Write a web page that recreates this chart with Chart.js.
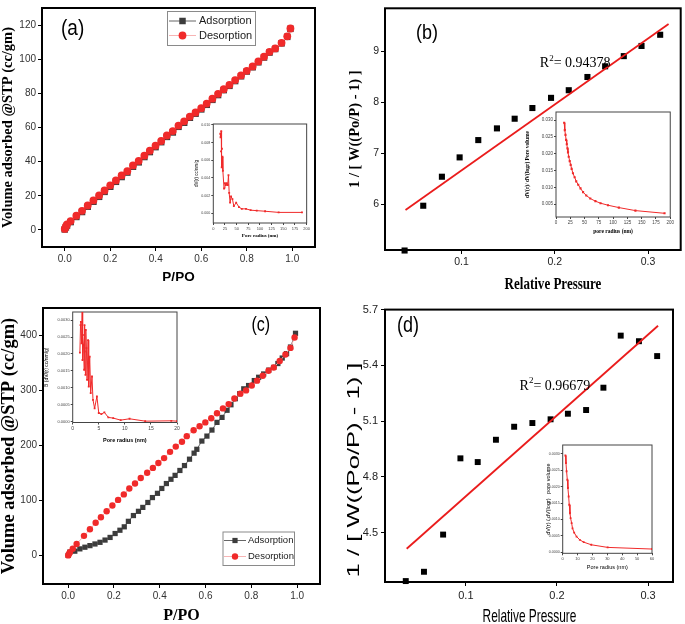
<!DOCTYPE html>
<html>
<head>
<meta charset="utf-8">
<script src="https://cdn.jsdelivr.net/npm/chart.js@4.4.1/dist/chart.umd.min.js"></script>
<style>
  html, body { margin: 0; padding: 0; background: #fff; }
  #page { position: relative; width: 685px; height: 624px; overflow: hidden; background: #fff; }
  canvas { position: absolute; }
</style>
</head>
<body>
<div id="page">
  <canvas id="chartA"></canvas>
  <canvas id="chartB"></canvas>
  <canvas id="chartC"></canvas>
  <canvas id="chartD"></canvas>
  <canvas id="insetA"></canvas>
  <canvas id="insetB"></canvas>
  <canvas id="insetC"></canvas>
  <canvas id="insetD"></canvas>
</div>
<script>
// ---- panel (a): isotherm ----
const aRelPressure = [0, 0.005, 0.01, 0.026, 0.051, 0.076, 0.101, 0.126, 0.151, 0.175, 0.2, 0.225, 0.25, 0.275, 0.3, 0.325, 0.35, 0.374, 0.399, 0.424, 0.449, 0.475, 0.5, 0.525, 0.55, 0.575, 0.6, 0.624, 0.649, 0.674, 0.699, 0.724, 0.749, 0.775, 0.8, 0.826, 0.851, 0.876, 0.9, 0.925, 0.953, 0.978, 0.992];
const aAdsorption = [0.3, 1.5, 2.6, 4.6, 7.6, 10.5, 13.6, 16.5, 19.4, 22.3, 25.3, 28.2, 31.0, 33.6, 37.0, 39.6, 42.7, 45.6, 48.5, 51.4, 54.5, 57.1, 60.4, 62.8, 65.7, 68.1, 70.6, 73.3, 76.2, 79.0, 81.9, 84.4, 87.2, 90.0, 92.8, 95.3, 98.2, 101.0, 103.9, 106.0, 109.3, 113.1, 117.8];
const aDesorption = [0.6, 2.0, 3.2, 5.2, 8.3, 11.2, 14.3, 17.3, 20.2, 23.1, 26.1, 29.0, 31.9, 34.4, 37.8, 40.4, 43.5, 46.4, 49.3, 52.1, 55.3, 57.9, 61.1, 63.6, 66.4, 68.8, 71.3, 74.0, 76.9, 79.7, 82.4, 85.0, 87.8, 90.5, 93.2, 95.8, 98.7, 101.5, 104.3, 106.3, 109.6, 113.4, 118.0];
const aTicksX = [0, 0.2, 0.4, 0.6, 0.8, 1.0];
const aTicksY = [0, 20, 40, 60, 80, 100, 120];

// inset (a): pore size distribution
const aPoreRadius = [15, 15.5, 17, 16.5, 18.5, 18, 19.5, 20.5, 23, 25, 27, 29, 31, 32.5, 34, 36, 38, 41, 44, 49, 55, 61, 70, 80, 93, 111, 140, 190];
const aPoreVolume = [0.0090, 0.0086, 0.0093, 0.0070, 0.0073, 0.0052, 0.0064, 0.0048, 0.0028, 0.0034, 0.0032, 0.0034, 0.0032, 0.0043, 0.0023, 0.0012, 0.0019, 0.0016, 0.0008, 0.0012, 0.0007, 0.0005, 0.0005, 0.00035, 0.0003, 0.00023, 0.0001, 0.0001];
const aInsetTicksX = [0, 25, 50, 75, 100, 125, 150, 175, 200];
const aInsetTicksY = [0, 0.002, 0.004, 0.006, 0.008, 0.010];

// ---- panel (b): BET plot ----
const bRelPressure = [0.039, 0.059, 0.079, 0.098, 0.118, 0.138, 0.157, 0.176, 0.196, 0.215, 0.235, 0.254, 0.274, 0.293, 0.313];
const bBet = [5.09, 5.97, 6.54, 6.92, 7.26, 7.49, 7.68, 7.89, 8.09, 8.24, 8.50, 8.71, 8.91, 9.11, 9.33];
const bFitPressure = [0.040, 0.322];
const bFitBet = [5.885, 9.54];
const bTicksX = [0.1, 0.2, 0.3];
const bTicksY = [6, 7, 8, 9];

const bPoreRadius = [14.3, 15.4, 16.6, 17.7, 18.9, 20, 21, 22.3, 24, 25.7, 27.4, 29.7, 32.6, 35.4, 38.9, 42.9, 47.4, 53, 60, 69, 78, 91, 110, 139, 190];
const bPoreVolume = [0.0292, 0.0270, 0.0256, 0.0241, 0.0228, 0.0216, 0.0204, 0.0191, 0.0178, 0.0167, 0.0155, 0.0142, 0.0130, 0.0118, 0.0108, 0.0097, 0.0086, 0.0076, 0.0067, 0.0059, 0.0053, 0.0047, 0.0040, 0.0031, 0.0023];
const bInsetTicksX = [0, 25, 50, 75, 100, 125, 150, 175, 200];
const bInsetTicksY = [0.005, 0.010, 0.015, 0.020, 0.025, 0.030];

// ---- panel (c): isotherm with hysteresis ----
const cAdsPressure = [0, 0.007, 0.029, 0.051, 0.073, 0.095, 0.117, 0.139, 0.161, 0.183, 0.205, 0.226, 0.245, 0.263, 0.285, 0.307, 0.326, 0.348, 0.368, 0.39, 0.409, 0.429, 0.449, 0.467, 0.488, 0.508, 0.53, 0.55, 0.562, 0.584, 0.606, 0.628, 0.65, 0.672, 0.694, 0.711, 0.73, 0.749, 0.767, 0.788, 0.813, 0.832, 0.854, 0.876, 0.898, 0.916, 0.935, 0.954, 0.971, 0.993];
const cAdsorption = [0, 6, 7.7, 11.9, 14.9, 17.8, 20.8, 23.8, 27.9, 32.7, 39.8, 45.8, 52, 62, 72.5, 80.2, 87.3, 96.3, 105.2, 112.9, 121.8, 130.7, 138.5, 145.6, 154.5, 163.4, 175, 186, 193, 208, 217, 228, 242, 251, 264, 274, 285, 294, 303, 309, 318, 324, 330, 337, 342, 349, 359, 367, 379, 404];
const cDesPressure = [0, 0.004, 0.008, 0.02, 0.037, 0.069, 0.095, 0.12, 0.143, 0.168, 0.193, 0.218, 0.243, 0.267, 0.292, 0.317, 0.345, 0.37, 0.394, 0.419, 0.445, 0.47, 0.497, 0.518, 0.548, 0.574, 0.599, 0.625, 0.65, 0.676, 0.701, 0.726, 0.752, 0.777, 0.802, 0.825, 0.85, 0.875, 0.898, 0.924, 0.949, 0.971, 0.989];
const cDesorption = [0, 3, 6, 12, 20.8, 35.6, 47.5, 59.4, 69.5, 80.2, 90.9, 101, 111, 121.8, 130.7, 140.8, 150.3, 159.2, 168.1, 177, 188.4, 197.9, 206.8, 216.9, 227.6, 234.8, 241.9, 249.6, 258.5, 267.4, 275.2, 285.3, 294.2, 300.1, 309, 317.9, 326.8, 335.8, 341.7, 353.6, 365.5, 377.4, 396.4];
const cTicksX = [0, 0.2, 0.4, 0.6, 0.8, 1.0];
const cTicksY = [0, 100, 200, 300, 400];

const cPoreRadius = [1.38, 1.5, 1.57, 1.69, 1.82, 1.88, 1.94, 2.07, 2.19, 2.26, 2.32, 2.45, 2.51, 2.63, 2.76, 2.95, 3.07, 3.26, 3.45, 3.7, 3.89, 4.2, 4.64, 5.0, 5.5, 6.08, 6.83, 7.77, 9.2, 10.9, 13.9, 18.9, 20];
const cPoreVolume = [0.00204, 0.00285, 0.00295, 0.00231, 0.00330, 0.00182, 0.00256, 0.00226, 0.00153, 0.00285, 0.00207, 0.00138, 0.00271, 0.00217, 0.00123, 0.00241, 0.00103, 0.00192, 0.00084, 0.00133, 0.00064, 0.00039, 0.00074, 0.00025, 0.00022, 0.00027, 0.00012, 0.0001, 0.00004, 0.00008, 0.00001, 0.00002, 0.00001];
const cInsetTicksX = [0, 5, 10, 15, 20];
const cInsetTicksY = [0, 0.0005, 0.0010, 0.0015, 0.0020, 0.0025, 0.0030];

// ---- panel (d): BET plot ----
const dRelPressure = [0.034, 0.054, 0.075, 0.094, 0.113, 0.133, 0.153, 0.173, 0.193, 0.212, 0.232, 0.251, 0.270, 0.290, 0.310];
const dBet = [4.24, 4.29, 4.49, 4.90, 4.88, 5.00, 5.07, 5.09, 5.11, 5.14, 5.16, 5.28, 5.56, 5.53, 5.45];
const dFitPressure = [0.035, 0.311];
const dFitBet = [4.414, 5.613];
const dTicksX = [0.1, 0.2, 0.3];
const dTicksY = [4.5, 4.8, 5.1, 5.4, 5.7];

const dPoreRadius = [1.8, 2.2, 2.6, 3.1, 3.5, 4.0, 4.4, 4.9, 5.3, 6, 6.6, 7.7, 9.3, 11.5, 14.1, 19.2, 30.2, 60];
const dPoreVolume = [0.00295, 0.00272, 0.00247, 0.00221, 0.00196, 0.00170, 0.00145, 0.00119, 0.00104, 0.00089, 0.00073, 0.00060, 0.00048, 0.00038, 0.00031, 0.00023, 0.00015, 0.00010];
const dInsetTicksX = [0, 10, 20, 30, 40, 50, 60];
const dInsetTicksY = [0, 0.0005, 0.0010, 0.0015, 0.0020, 0.0025, 0.0030];

const SANS = "'Liberation Sans', Arial, sans-serif";
const SERIF = "'Liberation Serif', 'Times New Roman', serif";
const RED = '#f02a2a';
const DARK = '#3c3c3c';

Chart.defaults.font.family = SANS;

const pts = (xs, ys) => xs.map((x, i) => ({ x: x, y: ys[i] }));

function place(id, left, top, w, h) {
  const c = document.getElementById(id);
  c.width = w;
  c.height = h;
  c.style.left = left + 'px';
  c.style.top = top + 'px';
  c.style.width = w + 'px';
  c.style.height = h + 'px';
  return c;
}

function axis(o) {
  const horizontal = o.position === 'bottom';
  return {
    type: 'linear',
    position: o.position,
    min: o.min,
    max: o.max,
    afterBuildTicks: a => { a.ticks = o.ticks.map(v => ({ value: v })); },
    afterFit: a => { if (horizontal) a.height = o.size; else a.width = o.size; },
    border: { display: false },
    grid: { drawOnChartArea: false, tickLength: o.tickLength, color: o.tickColor || '#000', lineWidth: 1 },
    ticks: {
      autoSkip: false, maxRotation: 0, padding: o.tickPadding,
      color: o.labelColor || '#222',
      font: { family: SANS, size: o.labelSize },
      callback: v => Number(v).toFixed(o.decimals)
    },
    title: {
      display: !!o.title, text: o.title || '', color: '#000',
      font: { family: o.titleFamily, size: o.titleSize, weight: o.titleWeight || 'normal', lineHeight: 1 },
      padding: horizontal ? { top: 0, bottom: o.titleOffset || 0 } : { top: o.titleOffset || 0, bottom: 0 }
    }
  };
}

// box around the plot area
function framePlugin(color, width) {
  return {
    id: 'frame',
    beforeDatasetsDraw(chart) {
      const { left, top, right, bottom } = chart.chartArea;
      const ctx = chart.ctx;
      ctx.save();
      ctx.strokeStyle = color;
      ctx.lineWidth = width;
      ctx.strokeRect(left, top, right - left, bottom - top);
      ctx.restore();
    }
  };
}

// free text: panel letters, stretched axis titles (canvas pixels) and R² labels (data position)
function notesPlugin(items) {
  return {
    id: 'notes',
    afterDraw(chart) {
      const ctx = chart.ctx;
      items.forEach(it => {
        let x = it.px, y = it.py;
        if (it.at) {
          x = chart.scales.x.getPixelForValue(it.at[0]);
          y = chart.scales.y.getPixelForValue(it.at[1]);
        }
        ctx.save();
        ctx.translate(x, y);
        if (it.rotate) ctx.rotate(it.rotate);
        ctx.scale(it.sx || 1, it.sy || 1);
        ctx.fillStyle = '#000';
        ctx.textBaseline = 'middle';
        ctx.textAlign = 'left';
        let total = 0;
        it.parts.forEach(p => { ctx.font = p.font; total += ctx.measureText(p.text).width; });
        let cx = it.center ? -total / 2 : 0;
        it.parts.forEach(p => {
          ctx.font = p.font;
          ctx.fillText(p.text, cx, p.dy || 0);
          cx += ctx.measureText(p.text).width;
        });
        ctx.restore();
      });
    }
  };
}

// boxed legend drawn at a fixed spot
function keyPlugin(k) {
  return {
    id: 'key',
    afterDraw(chart) {
      const ctx = chart.ctx;
      const [x0, y0, x1, y1] = k.box;
      ctx.save();
      ctx.fillStyle = '#fff';
      ctx.fillRect(x0, y0, x1 - x0, y1 - y0);
      ctx.strokeStyle = '#8a8a8a';
      ctx.lineWidth = 1;
      ctx.strokeRect(x0 + 0.5, y0 + 0.5, x1 - x0, y1 - y0);
      k.entries.forEach((idx, row) => {
        const ds = chart.data.datasets[idx];
        const y = k.rows[row];
        ctx.strokeStyle = ds.borderColor;
        ctx.lineWidth = 1;
        ctx.beginPath();
        ctx.moveTo(k.lineFrom, y);
        ctx.lineTo(k.lineTo, y);
        ctx.stroke();
        const mx = (k.lineFrom + k.lineTo) / 2;
        ctx.fillStyle = ds.pointBackgroundColor;
        ctx.beginPath();
        if (ds.pointStyle === 'rect') {
          const s = ds.pointRadius * Math.SQRT1_2;
          ctx.rect(mx - s, y - s, 2 * s, 2 * s);
        } else {
          ctx.arc(mx, y, ds.pointRadius, 0, Math.PI * 2);
        }
        ctx.fill();
        ctx.fillStyle = '#1a1a1a';
        ctx.font = k.font;
        ctx.textBaseline = 'middle';
        ctx.fillText(ds.label, k.textX, y);
      });
      ctx.restore();
    }
  };
}

function makeChart(id, pos, padding, scales, datasets, extras) {
  const canvas = place(id, pos[0], pos[1], pos[2], pos[3]);
  const plugins = [framePlugin(extras.frameColor || '#000', extras.frameWidth || 1)];
  if (extras.notes) plugins.push(notesPlugin(extras.notes));
  if (extras.key) plugins.push(keyPlugin(extras.key));
  return new Chart(canvas, {
    type: 'scatter',
    data: { datasets: datasets },
    options: {
      responsive: false,
      animation: false,
      events: [],
      layout: { padding: padding },
      scales: scales,
      plugins: { legend: { display: false }, tooltip: { enabled: false } }
    },
    plugins: plugins
  });
}

function insetSeries(xs, ys, radius) {
  return {
    data: pts(xs, ys), showLine: true, borderColor: RED, borderWidth: 1,
    pointStyle: 'rect', pointRadius: radius, pointBackgroundColor: RED, pointBorderWidth: 0, tension: 0
  };
}

// ---------- (a) ----------
makeChart('chartA', [0, 0, 330, 300], { top: 2, right: 15 }, {
  x: axis({ position: 'bottom', min: -0.1, max: 1.1, ticks: aTicksX, decimals: 1, size: 53, tickLength: 4, tickPadding: 2, labelSize: 10, labelColor: '#333',
            title: 'P/PO', titleFamily: SANS, titleSize: 13.5, titleWeight: 'bold', titleOffset: 15.5 }),
  y: axis({ position: 'left', min: -10, max: 130, ticks: aTicksY, decimals: 0, size: 42, tickLength: 4, tickPadding: 2, labelSize: 10, labelColor: '#333',
            title: 'Volume adsorbed @STP (cc/gm)', titleFamily: SERIF, titleSize: 14.5, titleWeight: 'bold', titleOffset: 0.5 })
}, [
  { label: 'Desorption', data: pts(aRelPressure, aDesorption), showLine: true, borderColor: '#f7b4b4', borderWidth: 1,
    pointStyle: 'circle', pointRadius: 3.9, pointBackgroundColor: RED, pointBorderWidth: 0, clip: false },
  { label: 'Adsorption', data: pts(aRelPressure, aAdsorption), showLine: true, borderColor: '#666', borderWidth: 1,
    pointStyle: 'rect', pointRadius: 4.6, pointBackgroundColor: DARK, pointBorderWidth: 0, clip: false }
], {
  frameWidth: 2,
  notes: [{ px: 61, py: 29, sy: 1.15, parts: [{ text: '(a)', font: '19px ' + SANS }] }],
  key: { box: [167, 11, 255, 45], entries: [1, 0], rows: [21, 35.5], lineFrom: 169, lineTo: 196, textX: 199, font: '11px ' + SANS }
});

makeChart('insetA', [192, 120, 119, 122], { top: 4, right: 1.7 }, {
  x: axis({ position: 'bottom', min: 0, max: 200, ticks: aInsetTicksX, decimals: 0, size: 19, tickLength: 2, tickPadding: 1, labelSize: 4, labelColor: '#444', tickColor: '#444',
            title: 'Pore radius (nm)', titleFamily: SERIF, titleSize: 5, titleWeight: 'bold', titleOffset: 3.5 }),
  y: axis({ position: 'left', min: -0.0011, max: 0.0101, ticks: aInsetTicksY, decimals: 3, size: 21.3, tickLength: 2, tickPadding: 1, labelSize: 3.6, labelColor: '#444', tickColor: '#444',
            title: 'dV(r) cc/nm/g', titleFamily: SANS, titleSize: 4.5, titleOffset: 2.75 })
}, [insetSeries(aPoreRadius, aPoreVolume, 1.3)], { frameColor: '#444', frameWidth: 1 });

// ---------- (b) ----------
makeChart('chartB', [340, 0, 345, 300], { top: 2, right: 2 }, {
  x: axis({ position: 'bottom', min: 0.018, max: 0.335, ticks: bTicksX, decimals: 1, size: 50, tickLength: 4, tickPadding: 2, labelSize: 10.5 }),
  y: axis({ position: 'left', min: 5.1, max: 9.85, ticks: bTicksY, decimals: 0, size: 45, tickLength: 4, tickPadding: 2, labelSize: 10.5,
            title: '1 / [ W((Po/P) - 1) ]', titleFamily: SERIF, titleSize: 14.5, titleWeight: 'bold', titleOffset: 7.75 })
}, [
  { data: pts(bFitPressure, bFitBet), showLine: true, borderColor: '#ea1c1c', borderWidth: 1.8, pointRadius: 0 },
  { data: pts(bRelPressure, bBet), showLine: false, pointStyle: 'rect', pointRadius: 4.3, pointBackgroundColor: '#000', pointBorderWidth: 0, clip: false }
], {
  frameWidth: 2,
  notes: [
    { px: 76, py: 33, sy: 1.15, parts: [{ text: '(b)', font: '18px ' + SANS }] },
    { px: 213, py: 285, center: true, sx: 0.93, sy: 1.15, parts: [{ text: 'Relative Pressure', font: 'bold 14px ' + SERIF }] },
    { at: [0.184, 8.76], parts: [{ text: 'R', font: '14px ' + SERIF }, { text: '2', font: '9px ' + SERIF, dy: -5 }, { text: '= 0.94378', font: '14px ' + SERIF }] }
  ]
});

makeChart('insetB', [524, 106, 151, 130], { top: 6, right: 2 }, {
  x: axis({ position: 'bottom', min: 0, max: 200, ticks: bInsetTicksX, decimals: 0, size: 19, tickLength: 2, tickPadding: 1, labelSize: 4.5, labelColor: '#444', tickColor: '#444',
            title: 'pore radius (nm)', titleFamily: SERIF, titleSize: 5.5, titleWeight: 'bold', titleOffset: 1.25 }),
  y: axis({ position: 'left', min: 0.0012, max: 0.0324, ticks: bInsetTicksY, decimals: 3, size: 32, tickLength: 2, tickPadding: 1, labelSize: 4.5, labelColor: '#444', tickColor: '#444',
            title: 'dV(r)/ dV(logr) Pore volume', titleFamily: SERIF, titleSize: 5.5, titleWeight: 'bold', titleOffset: 1.25 })
}, [insetSeries(bPoreRadius, bPoreVolume, 1.5)], { frameColor: '#444', frameWidth: 1 });

// ---------- (c) ----------
makeChart('chartC', [0, 300, 335, 324], { top: 3, right: 15 }, {
  x: axis({ position: 'bottom', min: -0.11, max: 1.1, ticks: cTicksX, decimals: 1, size: 40, tickLength: 4, tickPadding: 2, labelSize: 10, labelColor: '#333',
            title: 'P/PO', titleFamily: SERIF, titleSize: 16, titleWeight: 'bold', titleOffset: 0 }),
  y: axis({ position: 'left', min: -52, max: 450, ticks: cTicksY, decimals: 0, size: 43, tickLength: 4, tickPadding: 2, labelSize: 10, labelColor: '#333',
            title: 'Volume adsorbed @STP (cc/gm)', titleFamily: SERIF, titleSize: 18.5, titleWeight: 'bold', titleOffset: 0 })
}, [
  { label: 'Desorption', data: pts(cDesPressure, cDesorption), showLine: true, borderColor: '#f7b4b4', borderWidth: 1,
    pointStyle: 'circle', pointRadius: 3.2, pointBackgroundColor: RED, pointBorderWidth: 0, clip: false },
  { label: 'Adsorption', data: pts(cAdsPressure, cAdsorption), showLine: true, borderColor: '#666', borderWidth: 1,
    pointStyle: 'rect', pointRadius: 3.7, pointBackgroundColor: DARK, pointBorderWidth: 0, clip: false }
], {
  frameWidth: 2,
  notes: [{ px: 251.5, py: 25, sy: 1.25, parts: [{ text: '(c)', font: '16px ' + SANS }] }],
  key: { box: [222.5, 231.5, 294, 265], entries: [1, 0], rows: [240.5, 256.5], lineFrom: 224, lineTo: 246, textX: 248, font: '9.5px ' + SANS }
});

makeChart('insetC', [44, 306, 137, 138], { top: 6, right: 1.5 }, {
  x: axis({ position: 'bottom', min: 0, max: 20, ticks: cInsetTicksX, decimals: 0, size: 21.5, tickLength: 2, tickPadding: 1, labelSize: 5, labelColor: '#444', tickColor: '#444',
            title: 'Pore radius (nm)', titleFamily: SANS, titleSize: 5.5, titleWeight: 'bold', titleOffset: 1.25 }),
  y: axis({ position: 'left', min: -0.00003, max: 0.00324, ticks: cInsetTicksY, decimals: 4, size: 28.7, tickLength: 2, tickPadding: 1, labelSize: 4, labelColor: '#444', tickColor: '#444',
            title: 'B (dV/(r) cc/nm/g)', titleFamily: SANS, titleSize: 5, titleOffset: 0.5 })
}, [insetSeries(cPoreRadius, cPoreVolume, 1.3)], { frameColor: '#444', frameWidth: 1 });

// ---------- (d) ----------
makeChart('chartD', [340, 300, 345, 324], { top: 8, right: 12 }, {
  x: axis({ position: 'bottom', min: 0.0112, max: 0.3274, ticks: dTicksX, decimals: 1, size: 42, tickLength: 4, tickPadding: 3, labelSize: 11 }),
  y: axis({ position: 'left', min: 4.235, max: 5.7, ticks: dTicksY, decimals: 1, size: 45, tickLength: 4, tickPadding: 3, labelSize: 11 })
}, [
  { data: pts(dFitPressure, dFitBet), showLine: true, borderColor: '#ea1c1c', borderWidth: 1.8, pointRadius: 0 },
  { data: pts(dRelPressure, dBet), showLine: false, pointStyle: 'rect', pointRadius: 4.2, pointBackgroundColor: '#000', pointBorderWidth: 0, clip: false }
], {
  frameWidth: 2,
  notes: [
    { px: 57, py: 26, sy: 1.2, parts: [{ text: '(d)', font: '18px ' + SANS }] },
    { px: 15, py: 170, rotate: -Math.PI / 2, center: true, sx: 1.6, parts: [{ text: '1 / [ W((Po/P) - 1) ]', font: '16px ' + SANS }] },
    { px: 189.5, py: 316.5, center: true, sx: 0.82, sy: 1.25, parts: [{ text: 'Relative Pressure', font: '14.5px ' + SANS }] },
    { at: [0.159, 5.29], parts: [{ text: 'R', font: '14px ' + SERIF }, { text: '2', font: '9px ' + SERIF, dy: -5 }, { text: '= 0.96679', font: '14px ' + SERIF }] }
  ]
});

makeChart('insetD', [542, 439, 114, 133], { top: 6, right: 2 }, {
  x: axis({ position: 'bottom', min: 0, max: 60, ticks: dInsetTicksX, decimals: 0, size: 18.7, tickLength: 2, tickPadding: 1, labelSize: 4, labelColor: '#444', tickColor: '#444',
            title: 'Pore radius (nm)', titleFamily: SANS, titleSize: 5.5, titleOffset: 2.25 }),
  y: axis({ position: 'left', min: -0.00003, max: 0.00327, ticks: dInsetTicksY, decimals: 4, size: 20.7, tickLength: 2, tickPadding: 1, labelSize: 3.6, labelColor: '#444', tickColor: '#444',
            title: 'dV(r) / dV(logr)   pore volume', titleFamily: SANS, titleSize: 5.5, titleOffset: 3.25 })
}, [insetSeries(dPoreRadius, dPoreVolume, 1.3)], { frameColor: '#444', frameWidth: 1 });
</script>
</body>
</html>
